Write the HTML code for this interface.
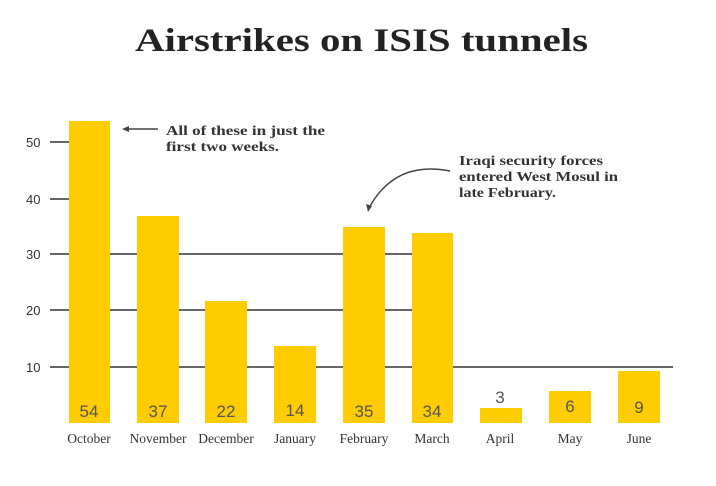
<!DOCTYPE html>
<html><head><style>
body{margin:0;background:#fff}
svg{display:block}
</style></head><body>
<svg width="716" height="486" xmlns="http://www.w3.org/2000/svg">
<text x="135" y="51" textLength="453" lengthAdjust="spacingAndGlyphs" font-family="Liberation Serif, serif" font-weight="bold" font-size="33" fill="#222">Airstrikes on ISIS tunnels</text>
<g stroke="#666" stroke-width="2">
<line x1="50" y1="142" x2="69" y2="142"/>
<line x1="50" y1="199" x2="69" y2="199"/>
<line x1="50" y1="254" x2="412" y2="254"/>
<line x1="50" y1="310" x2="412" y2="310"/>
<line x1="50" y1="367" x2="673" y2="367"/>
</g>
<g font-family="Liberation Sans, sans-serif" font-size="13" fill="#333">
<text x="26" y="147">50</text><text x="26" y="204">40</text><text x="26" y="259">30</text><text x="26" y="315">20</text><text x="26" y="372">10</text>
</g>
<g fill="#ffcc00">
<rect x="69" y="121" width="41" height="302"/>
<rect x="137" y="216" width="42" height="207"/>
<rect x="205" y="301" width="42" height="122"/>
<rect x="274" y="346" width="42" height="77"/>
<rect x="343" y="227" width="42" height="196"/>
<rect x="412" y="233" width="41" height="190"/>
<rect x="480" y="408" width="42" height="15"/>
<rect x="549" y="391" width="42" height="32"/>
<rect x="618" y="371" width="42" height="52"/>
</g>
<g font-family="Liberation Sans, sans-serif" font-size="17" fill="#555" text-anchor="middle">
<text x="89" y="417">54</text><text x="158" y="417">37</text><text x="226" y="417">22</text><text x="295" y="416">14</text>
<text x="364" y="417">35</text><text x="432" y="417">34</text><text x="500" y="403">3</text><text x="570" y="412">6</text><text x="639" y="413">9</text>
</g>
<g font-family="Liberation Serif, serif" font-size="13.5" fill="#333" text-anchor="middle">
<text x="89" y="443">October</text><text x="158" y="443">November</text><text x="226" y="443">December</text><text x="295" y="443">January</text>
<text x="364" y="443">February</text><text x="432" y="443">March</text><text x="500" y="443">April</text><text x="570" y="443">May</text><text x="639" y="443">June</text>
</g>
<g font-family="Liberation Serif, serif" font-weight="bold" font-size="14" fill="#333">
<text x="166" y="135" textLength="159" lengthAdjust="spacingAndGlyphs">All of these in just the</text>
<text x="166" y="151" textLength="113" lengthAdjust="spacingAndGlyphs">first two weeks.</text>
<text x="459" y="165" textLength="144" lengthAdjust="spacingAndGlyphs">Iraqi security forces</text>
<text x="459" y="181" textLength="159" lengthAdjust="spacingAndGlyphs">entered West Mosul in</text>
<text x="459" y="197" textLength="97" lengthAdjust="spacingAndGlyphs">late February.</text>
</g>
<line x1="126" y1="129" x2="158" y2="129" stroke="#444" stroke-width="1.5"/>
<path d="M122 129 L129 126 L129 132 Z" fill="#444"/>
<path d="M450 171 Q395 160 369 208" fill="none" stroke="#444" stroke-width="1.5"/>
<path d="M368 212 L366 204 L372 206 Z" fill="#444"/>
</svg>
</body></html>
